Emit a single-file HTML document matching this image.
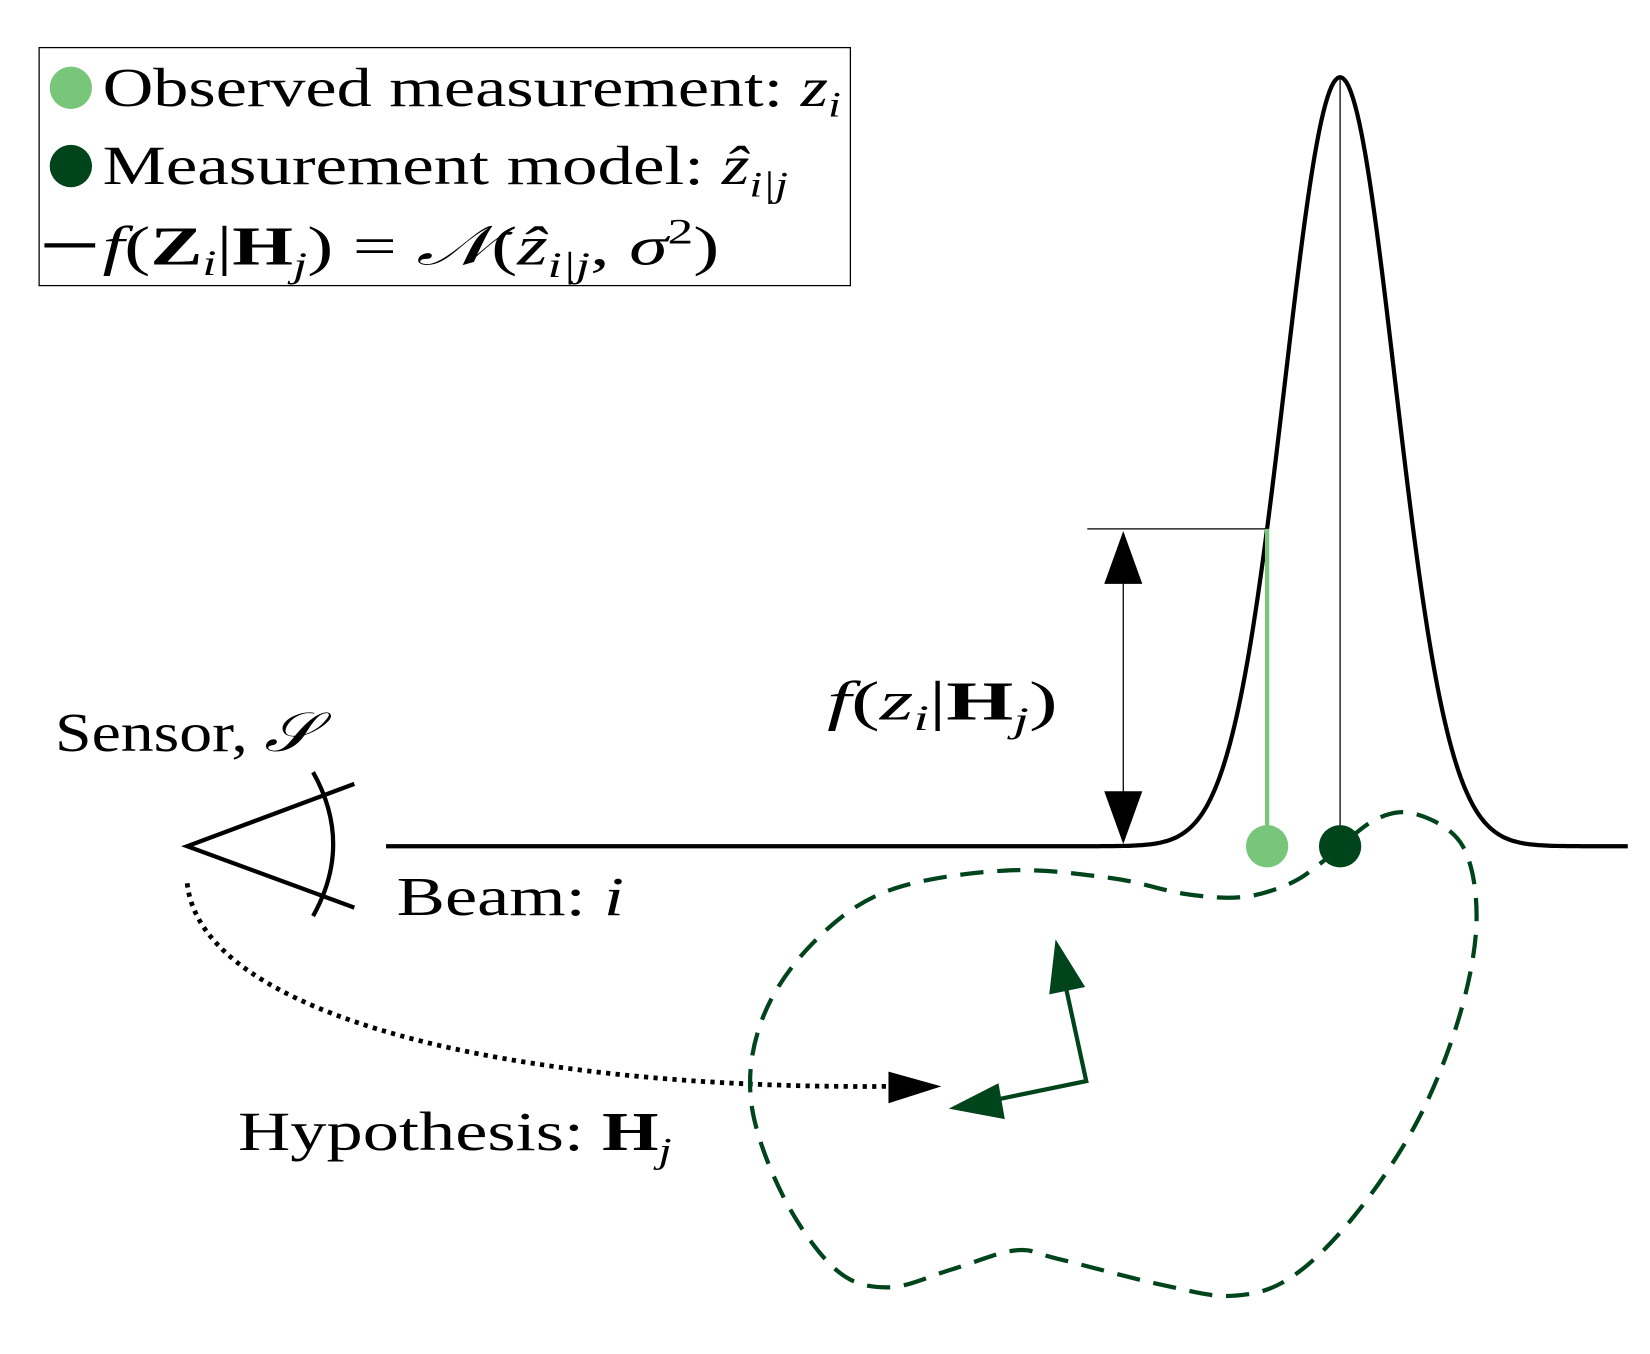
<!DOCTYPE html>
<html><head><meta charset="utf-8"><style>
html,body{margin:0;padding:0;background:#fff}
svg{display:block}
text{font-family:"Liberation Serif",serif;font-size:52px;fill:#000}
.i{font-style:italic}
.b{font-weight:bold}
</style></head><body>
<svg id="s" width="1650" height="1354" viewBox="0 0 1560 1280" preserveAspectRatio="none" xmlns="http://www.w3.org/2000/svg">
<rect x="37" y="45" width="767" height="225" fill="none" stroke="#000" stroke-width="1.2"/>
<circle cx="67" cy="83" r="20" fill="#78c679"/>
<text x="97" y="100" textLength="698" lengthAdjust="spacingAndGlyphs">Observed measurement: <tspan class="i">z</tspan><tspan class="i" font-size="34" dy="10">i</tspan></text>
<circle cx="67" cy="157" r="20" fill="#00441b"/>
<text x="97" y="174" textLength="648" lengthAdjust="spacingAndGlyphs">Measurement model: <tspan class="i">ẑ</tspan><tspan class="i" font-size="34" dy="12">i|j</tspan></text>
<line x1="42" y1="232" x2="90" y2="232" stroke="#000" stroke-width="4"/>
<text x="97" y="250" textLength="583" lengthAdjust="spacingAndGlyphs"><tspan class="i">f</tspan>(<tspan class="b">Z</tspan><tspan class="i" font-size="34" dy="10">i</tspan><tspan dy="-10">|</tspan><tspan class="b">H</tspan><tspan class="i" font-size="34" dy="12">j</tspan><tspan dy="-12">) = </tspan><tspan class="i">𝒩</tspan>(<tspan class="i">ẑ</tspan><tspan class="i" font-size="34" dy="12">i|j</tspan><tspan dy="-12">, </tspan><tspan class="i">σ</tspan><tspan font-size="34" dy="-20">2</tspan><tspan dy="20">)</tspan></text>

<path id="g" fill="none" stroke="#000" stroke-width="4"/>
<line x1="1267" y1="73" x2="1267" y2="800" stroke="#000" stroke-width="1.2"/>
<line x1="1028" y1="500" x2="1198" y2="500" stroke="#000" stroke-width="1.2"/>
<line x1="1198" y1="500" x2="1198" y2="800" stroke="#78c679" stroke-width="4"/>
<circle cx="1198" cy="800" r="20" fill="#78c679"/>
<circle cx="1267" cy="800" r="20" fill="#00441b"/>
<line x1="1062" y1="540" x2="1062" y2="760" stroke="#000" stroke-width="1.2"/>
<polygon points="1062,502 1044,552 1080,552" fill="#000"/>
<polygon points="1062,798 1044,748 1080,748" fill="#000"/>
<text x="782" y="680" textLength="218" lengthAdjust="spacingAndGlyphs"><tspan class="i">f</tspan>(<tspan class="i">z</tspan><tspan class="i" font-size="34" dy="10">i</tspan><tspan dy="-10">|</tspan><tspan class="b">H</tspan><tspan class="i" font-size="34" dy="12">j</tspan><tspan dy="-12">)</tspan></text>

<polyline points="335,741 177,800 335,858" fill="none" stroke="#000" stroke-width="4"/>
<path d="M296,730 Q334,798 296,866" fill="none" stroke="#000" stroke-width="4"/>
<text x="52" y="710" textLength="246" lengthAdjust="spacingAndGlyphs">Sensor, <tspan class="i">𝒮</tspan></text>
<text x="375" y="865" textLength="215" lengthAdjust="spacingAndGlyphs">Beam: <tspan class="i">i</tspan></text>
<path d="M177,835 C190,960 480,1030 840,1027" fill="none" stroke="#000" stroke-width="4.5" stroke-dasharray="4,5"/>
<polygon points="840,1013 890,1027 840,1043" fill="#000"/>
<text x="225" y="1087" textLength="410" lengthAdjust="spacingAndGlyphs">Hypothesis: <tspan class="b">H</tspan><tspan class="i" font-size="34" dy="12">j</tspan></text>

<path id="blob" fill="none" stroke="#00441b" stroke-width="4" stroke-dasharray="22,13"/>
<polyline points="1007,930 1027,1022 935,1041" fill="none" stroke="#00441b" stroke-width="4"/>
<polygon points="998,888 992,940 1026,933" fill="#00441b"/>
<polygon points="897,1048 944,1024 950,1058" fill="#00441b"/>
</svg>
<script>
var d="";for(var x=365;x<=1540;x+=2){var y=800-727*Math.exp(-Math.pow(x-1267,2)/(2*2693));d+=(x==365?"M":"L")+x+","+y.toFixed(1);}
document.getElementById("g").setAttribute("d",d);
var p=[[1250,815],[1300,775],[1340,770],[1383,800],[1396,870],[1380,960],[1340,1060],[1280,1150],[1220,1208],[1165,1225],[1100,1215],[1000,1190],[960,1182],[900,1200],[840,1217],[790,1200],[740,1130],[710,1040],[722,960],[770,890],[840,842],[950,823],[1050,830],[1120,845],[1175,848],[1220,835]];
var n=p.length,s="M"+p[0];for(var i=0;i<n;i++){var a=p[(i-1+n)%n],b=p[i],c=p[(i+1)%n],e=p[(i+2)%n];
s+="C"+(b[0]+(c[0]-a[0])/6)+","+(b[1]+(c[1]-a[1])/6)+" "+(c[0]-(e[0]-b[0])/6)+","+(c[1]-(e[1]-b[1])/6)+" "+c[0]+","+c[1];}
document.getElementById("blob").setAttribute("d",s);
</script>
</body></html>
